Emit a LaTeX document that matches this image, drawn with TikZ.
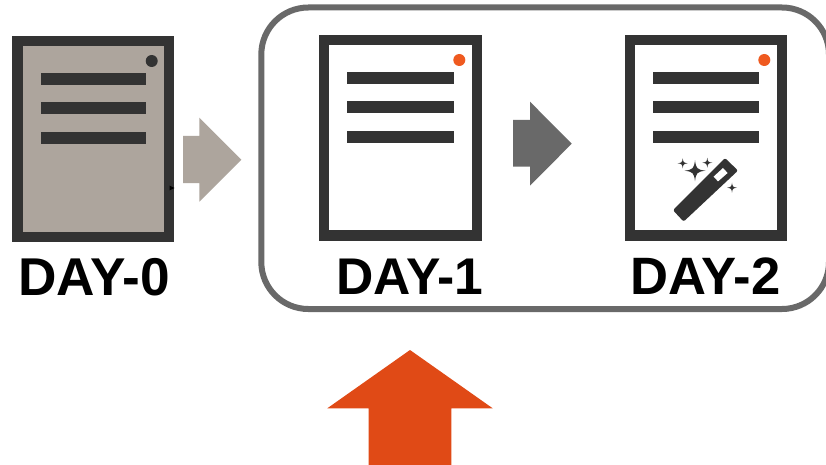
\documentclass[tikz,border=0pt]{standalone}
\usepackage{fontspec}
\setmainfont{Liberation Sans}
\definecolor{ink}{HTML}{333333}
\definecolor{paper}{HTML}{ADA59D}
\definecolor{slate}{HTML}{696969}
\definecolor{flame}{HTML}{E04A16}
\definecolor{dotorange}{HTML}{EF5A20}
\tikzset{
  x=1pt,y=-1pt,
  daylabel/.style={anchor=base,inner sep=0pt,font=\bfseries\fontsize{#1}{#1}\selectfont,text=black},
  groupbox/.style={draw=slate,line width=6pt,rounded corners=47pt,fill=white},
}
% #1 left, #2 top, #3 right, #4 bottom of the frame; #5 fill; #6 dot colour; #7 name
\newcommand{\docsheet}[7]{%
  \fill[ink] (#1,#2) rectangle (#3,#4);
  \fill[#5] (#1+10.6,#2+10.4) rectangle (#3-10.4,#4-10.6);
  \fill[ink] (#1+28.6,#2+37.4) rectangle (#3-28.4,#2+49.2);
  \fill[ink] (#1+28.6,#2+66.4) rectangle (#3-28.4,#2+78.2);
  \fill[ink] (#1+28.6,#2+95.6) rectangle (#3-28.4,#2+107.6);
  \fill[#6] (#3-22.7,#2+25) circle (6);
  \coordinate (#7) at (#1+81,#2+103);
}
% #1 centre x, #2 centre y, #3 arm
\newcommand{\sparkle}[3]{%
  \fill[ink] (#1,#2-#3) .. controls (#1+0.1*#3,#2-0.2*#3) and (#1+0.2*#3,#2-0.1*#3) .. (#1+#3,#2)
    .. controls (#1+0.2*#3,#2+0.1*#3) and (#1+0.1*#3,#2+0.2*#3) .. (#1,#2+#3)
    .. controls (#1-0.1*#3,#2+0.2*#3) and (#1-0.2*#3,#2+0.1*#3) .. (#1-#3,#2)
    .. controls (#1-0.2*#3,#2-0.1*#3) and (#1-0.1*#3,#2-0.2*#3) .. (#1,#2-#3) -- cycle;
}
\begin{document}
\begin{tikzpicture}
\useasboundingbox (0,0) rectangle (826,465);
\clip (0,0) rectangle (826,465);
\fill[white] (0,0) rectangle (826,465);

% group frame
\draw[groupbox] (261.3,7.5) rectangle (829,309);

% sheets
\docsheet{12.2}{36}{174.4}{242.3}{paper}{ink}{sheetzero}
\docsheet{318.7}{35}{482}{241}{white}{dotorange}{sheetone}
\docsheet{624.7}{35}{787}{241}{white}{dotorange}{sheettwo}

% small mark on the first sheet's edge
\fill[black] (169.5,185.6) -- (174.5,188) -- (169.5,190.4) -- cycle;

% block arrows
\fill[paper] (183,136) -- (199.3,136) -- (199.3,117.7) -- (241.3,159.7) -- (199.3,201.7) -- (199.3,183) -- (183,183) -- cycle;
\fill[slate] (513,120) -- (530,120) -- (530,101.7) -- (571.7,143.7) -- (530,185.7) -- (530,166.7) -- (513,166.7) -- cycle;
\fill[flame] (410,350) -- (492.7,408.3) -- (451.3,408.3) -- (451.3,466) -- (368.7,466) -- (368.7,408.3) -- (327.3,408.3) -- cycle;

% wand
\fill[ink,rounded corners=2pt] (725,158) -- (738,170.6) -- (683.6,221.6) -- (673,210.2) -- cycle;
\fill[white] (713.6,176.6) -- (723,168) -- (727.6,173) -- (718,181.4) -- cycle;
\sparkle{695}{170.7}{10.5}
\sparkle{682.7}{163.3}{5}
\sparkle{707.3}{162.7}{5}
\sparkle{732}{187.7}{5}

% labels
\node[daylabel=53.2] (dayzero) at (94,295) {DAY-0};
\node[daylabel=51.6] (dayone) at (410,294) {DAY-1};
\node[daylabel=52.6] (daytwo) at (705.5,294) {DAY-2};
\end{tikzpicture}
\end{document}
